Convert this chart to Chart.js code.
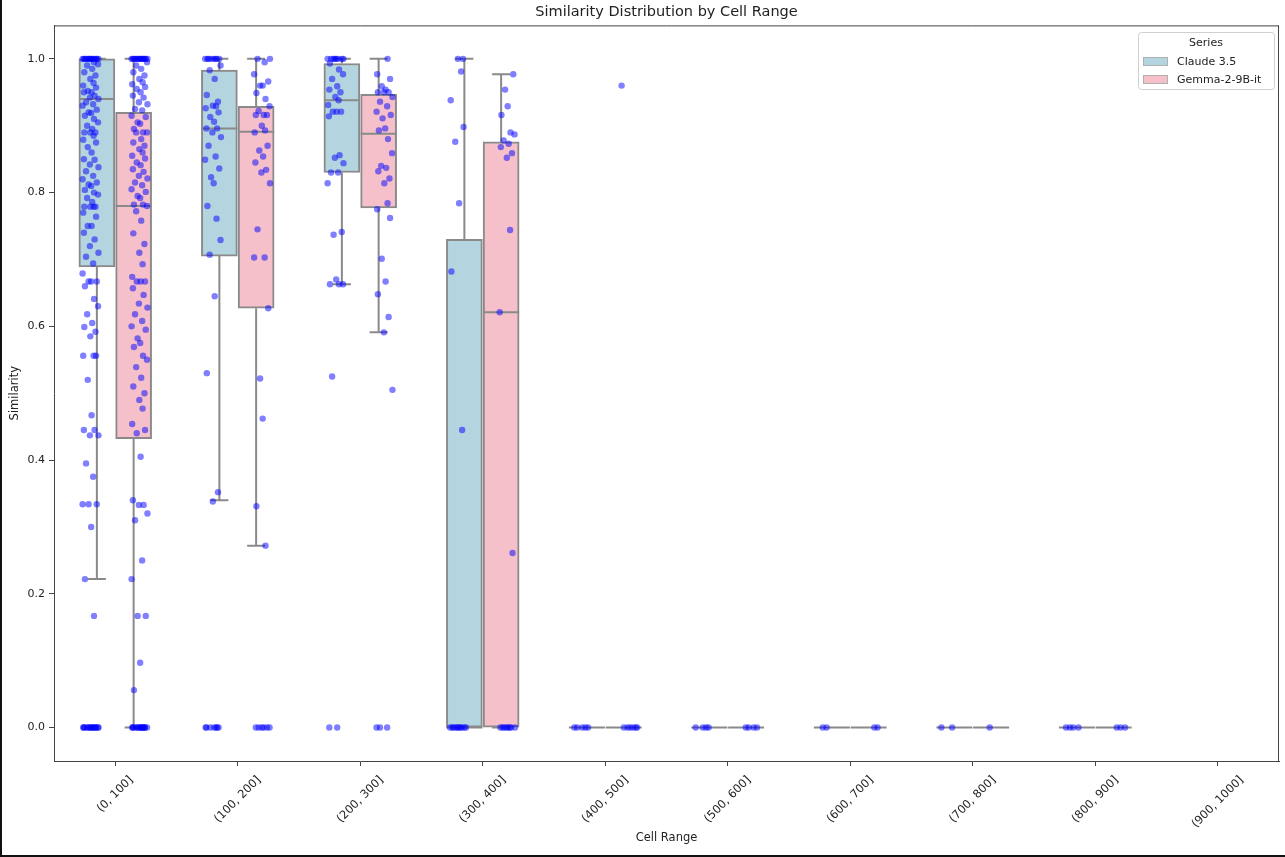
<!DOCTYPE html>
<html>
<head>
<meta charset="utf-8">
<script src="https://cdn.jsdelivr.net/npm/chart.js@4.4.1/dist/chart.umd.min.js"></script>
<style>
  html, body { margin: 0; padding: 0; background: #fff; }
  #wrap { width: 1285px; height: 857px; }
</style>
</head>
<body>
<div id="wrap"><canvas id="boxChart" width="1285" height="857"></canvas></div>
<script>
const categories = ['(0, 100]', '(100, 200]', '(200, 300]', '(300, 400]', '(400, 500]',
                    '(500, 600]', '(600, 700]', '(700, 800]', '(800, 900]', '(900, 1000]'];
const seriesNames = ['Claude 3.5', 'Gemma-2-9B-it'];
const yTicks = [0.0, 0.2, 0.4, 0.6, 0.8, 1.0];

// box statistics per cell range (null = no data)
const claudeLow    = [0.222, 0.340, 0.663, 0, 0, 0, 0, 0, 0, null];
const claudeQ1     = [0.689, 0.705, 0.830, 0, 0, 0, 0, 0, 0, null];
const claudeMedian = [0.940, 0.896, 0.938, 0, 0, 0, 0, 0, 0, null];
const claudeQ3     = [1.000, 0.983, 0.993, 0.730, 0, 0, 0, 0, 0, null];
const claudeHigh   = [1.000, 1.000, 1.000, 1.000, 0, 0, 0, 0, 0, null];

const gemmaLow    = [0.000, 0.272, 0.591, 0, 0, 0, 0, 0, 0, null];
const gemmaQ1     = [0.432, 0.627, 0.777, 0, 0, 0, 0, 0, 0, null];
const gemmaMedian = [0.780, 0.891, 0.888, 0.621, 0, 0, 0, 0, 0, null];
const gemmaQ3     = [0.920, 0.929, 0.947, 0.876, 0, 0, 0, 0, 0, null];
const gemmaHigh   = [1.000, 1.000, 1.000, 0.977, 0, 0, 0, 0, 0, null];

// individual similarity values (strip points)
const claudePoints = [
  [1, 1, 1, 1, 1, 1, 1, 1, 1, 1, 1, 1, 1, 1, 0.995, 0.992, 0.99, 0.985, 0.98, 0.975, 0.97, 0.964, 0.96,
   0.957, 0.952, 0.95, 0.95, 0.945, 0.942, 0.94, 0.935, 0.932, 0.93, 0.924, 0.92, 0.919, 0.915, 0.91,
   0.905, 0.9, 0.895, 0.89, 0.89, 0.89, 0.885, 0.879, 0.875, 0.868, 0.86, 0.85, 0.849, 0.842, 0.838,
   0.832, 0.825, 0.82, 0.815, 0.812, 0.81, 0.804, 0.8, 0.797, 0.792, 0.786, 0.779, 0.779, 0.779, 0.779,
   0.77, 0.764, 0.75, 0.75, 0.74, 0.73, 0.72, 0.71, 0.704, 0.694, 0.679, 0.667, 0.667, 0.667, 0.66,
   0.641, 0.63, 0.618, 0.605, 0.599, 0.592, 0.585, 0.556, 0.556, 0.556, 0.52, 0.467, 0.445, 0.445,
   0.437, 0.437, 0.395, 0.375, 0.334, 0.334, 0.334, 0.3, 0.222, 0.167,
   0, 0, 0, 0, 0, 0, 0, 0, 0, 0, 0, 0, 0, 0, 0],
  [1, 1, 1, 1, 1, 1, 1, 1, 0.99, 0.983, 0.97, 0.946, 0.936, 0.93, 0.929, 0.926, 0.92, 0.913, 0.906,
   0.896, 0.896, 0.89, 0.883, 0.87, 0.854, 0.849, 0.836, 0.823, 0.814, 0.78, 0.761, 0.729, 0.707,
   0.645, 0.53, 0.352, 0.338, 0, 0, 0, 0, 0, 0, 0],
  [1, 1, 1, 1, 1, 1, 1, 1, 0.993, 0.984, 0.977, 0.97, 0.959, 0.954, 0.95, 0.943, 0.938, 0.931, 0.921,
   0.921, 0.921, 0.914, 0.856, 0.852, 0.844, 0.83, 0.83, 0.814, 0.741, 0.737, 0.67, 0.663, 0.663,
   0.663, 0.525, 0, 0],
  [1, 1, 0.981, 0.938, 0.898, 0.876, 0.784, 0.682, 0.445, 0, 0, 0, 0, 0, 0, 0, 0, 0, 0],
  [0, 0, 0, 0, 0],
  [0, 0, 0, 0],
  [0, 0],
  [0, 0],
  [0, 0, 0, 0],
  []
];
const gemmaPoints = [
  [1, 1, 1, 1, 1, 1, 1, 1, 1, 1, 1, 1, 1, 1, 1, 0.995, 0.99, 0.985, 0.98, 0.975, 0.97, 0.965, 0.962,
   0.958, 0.955, 0.95, 0.945, 0.942, 0.935, 0.932, 0.925, 0.923, 0.915, 0.913, 0.905, 0.903, 0.895,
   0.89, 0.89, 0.89, 0.88, 0.875, 0.87, 0.865, 0.86, 0.855, 0.851, 0.845, 0.841, 0.835, 0.831, 0.825,
   0.821, 0.815, 0.811, 0.805, 0.801, 0.795, 0.792, 0.782, 0.782, 0.78, 0.772, 0.758, 0.739, 0.723,
   0.71, 0.693, 0.674, 0.667, 0.667, 0.667, 0.657, 0.647, 0.634, 0.628, 0.618, 0.608, 0.6, 0.595,
   0.582, 0.575, 0.569, 0.556, 0.55, 0.539, 0.523, 0.51, 0.5, 0.49, 0.477, 0.454, 0.445, 0.44, 0.405,
   0.34, 0.333, 0.333, 0.32, 0.31, 0.25, 0.222, 0.167, 0.167, 0.097, 0.056,
   0, 0, 0, 0, 0, 0, 0, 0, 0, 0, 0, 0, 0, 0, 0],
  [1, 1, 0.995, 0.977, 0.966, 0.96, 0.96, 0.949, 0.94, 0.929, 0.922, 0.916, 0.916, 0.916, 0.9, 0.893,
   0.89, 0.87, 0.863, 0.854, 0.845, 0.834, 0.83, 0.814, 0.745, 0.703, 0.703, 0.627, 0.522, 0.462,
   0.331, 0.272, 0, 0, 0, 0, 0, 0],
  [1, 0.977, 0.97, 0.959, 0.954, 0.95, 0.95, 0.95, 0.943, 0.936, 0.929, 0.921, 0.916, 0.911, 0.896,
   0.893, 0.88, 0.859, 0.84, 0.837, 0.832, 0.821, 0.814, 0.784, 0.775, 0.762, 0.701, 0.667, 0.648,
   0.614, 0.591, 0.505, 0, 0, 0],
  [0.977, 0.954, 0.929, 0.916, 0.89, 0.887, 0.878, 0.873, 0.868, 0.859, 0.852, 0.744, 0.621, 0.261,
   0, 0, 0, 0, 0, 0, 0, 0],
  [0.96, 0, 0, 0, 0, 0, 0],
  [0, 0, 0, 0],
  [0, 0],
  [0],
  [0, 0, 0],
  []
];

const BOX_COLORS = ['#b4d4df', '#f5c0ca'];
const EDGE = '#8a8a8a';
const POINT_COLOR = 'rgba(0, 0, 255, 0.5)';
const FONT = '"DejaVu Sans", sans-serif';
// fixed horizontal jitter pattern for the strip points (in category units)
const JITTER = [0.62, -0.35, 0.1, -0.8, 0.45, -0.1, 0.9, -0.55, 0.28, -0.95, 0.7, -0.25, 0.05,
                -0.68, 0.38, 0.85, -0.42, 0.17, -0.75, 0.55, -0.05, 0.33, -0.88];
const BOX_SHIFT = 0.15;   // box centre offset from the category position
const DODGE = 0.2;        // strip centre offset
const SPREAD = 0.07;

function stripData(points, side) {
    let out = [];
    let k = 0;
    points.forEach(function (vals, i) {
        vals.forEach(function (v) {
            out.push({ x: i + side * DODGE + JITTER[k % JITTER.length] * SPREAD, y: v });
            k++;
        });
    });
    return out;
}

function boxData(q1, q3, side) {
    let out = [];
    categories.forEach(function (c, i) {
        if (q1[i] !== null) out.push({ x: i + side * BOX_SHIFT, y: [q1[i], q3[i]], cat: i });
    });
    return out;
}

const boxStats = [
    { low: claudeLow, q1: claudeQ1, med: claudeMedian, q3: claudeQ3, high: claudeHigh },
    { low: gemmaLow, q1: gemmaQ1, med: gemmaMedian, q3: gemmaQ3, high: gemmaHigh }
];

// whiskers, caps and medians drawn right after the boxes, under the points
const whiskerPlugin = {
    id: 'whiskers',
    afterDatasetDraw(chart, args) {
        if (args.index !== 0) return;
        const ctx = chart.ctx;
        const y = chart.scales.y;
        ctx.save();
        ctx.strokeStyle = EDGE;
        ctx.lineWidth = 2;
        [0, 1].forEach(function (s) {
            const meta = chart.getDatasetMeta(s);
            const st = boxStats[s];
            const raw = chart.data.datasets[s].data;
            meta.data.forEach(function (bar, j) {
                const i = raw[j].cat;
                const x = bar.x;
                const half = bar.width / 2;
                ctx.beginPath();
                ctx.moveTo(x, y.getPixelForValue(st.q3[i]));
                ctx.lineTo(x, y.getPixelForValue(st.high[i]));
                ctx.moveTo(x, y.getPixelForValue(st.q1[i]));
                ctx.lineTo(x, y.getPixelForValue(st.low[i]));
                ctx.moveTo(x - half / 2, y.getPixelForValue(st.high[i]));
                ctx.lineTo(x + half / 2, y.getPixelForValue(st.high[i]));
                ctx.moveTo(x - half / 2, y.getPixelForValue(st.low[i]));
                ctx.lineTo(x + half / 2, y.getPixelForValue(st.low[i]));
                ctx.moveTo(x - half, y.getPixelForValue(st.med[i]));
                ctx.lineTo(x + half, y.getPixelForValue(st.med[i]));
                ctx.stroke();
            });
        });
        ctx.restore();
    }
};

const framePlugin = {
    id: 'frame',
    beforeDraw(chart) {
        const ctx = chart.ctx;
        ctx.save();
        ctx.fillStyle = '#fff';
        ctx.fillRect(0, 0, chart.width, chart.height);
        ctx.restore();
    },
    afterDraw(chart) {
        const ctx = chart.ctx;
        const a = chart.chartArea;
        ctx.save();
        // top and right spines
        ctx.strokeStyle = '#444';
        ctx.lineWidth = 1;
        ctx.beginPath();
        ctx.moveTo(a.left, a.top + 0.5);
        ctx.lineTo(a.right, a.top + 0.5);
        ctx.moveTo(a.right - 0.5, a.top);
        ctx.lineTo(a.right - 0.5, a.bottom);
        ctx.stroke();

        // rotated x tick labels, centred under their ticks
        const xs = chart.scales.x;
        ctx.font = '11.5px ' + FONT;
        ctx.fillStyle = '#222';
        ctx.textAlign = 'center';
        ctx.textBaseline = 'middle';
        categories.forEach(function (lab, i) {
            const x = xs.getPixelForValue(i);
            const w = ctx.measureText(lab).width;
            const half = (w + 12) * Math.SQRT1_2 / 2;
            ctx.save();
            ctx.translate(x, a.bottom + 13 + half);
            ctx.rotate(-Math.PI / 4);
            ctx.fillText(lab, 0, 0);
            ctx.restore();
        });

        // legend
        const lx = 1138, ly = 32, lw = 136, lh = 57;
        ctx.font = '11px ' + FONT;
        ctx.fillStyle = 'rgba(255,255,255,0.8)';
        ctx.strokeStyle = '#d0d0d0';
        ctx.beginPath();
        ctx.roundRect(lx + 0.5, ly + 0.5, lw, lh, 3);
        ctx.fill();
        ctx.stroke();
        ctx.fillStyle = '#222';
        ctx.textAlign = 'center';
        ctx.fillText('Series', lx + lw / 2, ly + 11);
        seriesNames.forEach(function (name, s) {
            const py = ly + 25 + s * 18;
            ctx.fillStyle = BOX_COLORS[s];
            ctx.fillRect(lx + 5, py, 25, 9);
            ctx.strokeStyle = '#b0b0b0';
            ctx.strokeRect(lx + 5.5, py + 0.5, 24, 8);
            ctx.fillStyle = '#222';
            ctx.textAlign = 'left';
            ctx.fillText(name, lx + 39, py + 5);
        });

        // figure frame
        ctx.fillStyle = '#111';
        ctx.fillRect(0, 0, 2, chart.height);
        ctx.fillRect(0, chart.height - 2, chart.width, 2);
        ctx.restore();
    }
};

const boxCommon = {
    type: 'bar', borderColor: EDGE, borderWidth: 2, borderSkipped: false,
    grouped: false, barThickness: 36, maxBarThickness: 36, barPercentage: 0.98,
    categoryPercentage: 1, order: 2
};
const pointCommon = {
    type: 'scatter', pointRadius: 3.2, pointBorderWidth: 0, pointBackgroundColor: POINT_COLOR,
    showLine: false, order: 1
};

const datasets = [
    Object.assign({ label: seriesNames[0], data: boxData(claudeQ1, claudeQ3, -1), backgroundColor: BOX_COLORS[0] }, boxCommon),
    Object.assign({ label: seriesNames[1], data: boxData(gemmaQ1, gemmaQ3, 1), backgroundColor: BOX_COLORS[1] }, boxCommon),
    Object.assign({ label: seriesNames[0] + ' points', data: stripData(claudePoints, -1) }, pointCommon),
    Object.assign({ label: seriesNames[1] + ' points', data: stripData(gemmaPoints, 1) }, pointCommon)
];

const ctx = document.getElementById('boxChart').getContext('2d');
new Chart(ctx, {
    type: 'scatter',
    data: { datasets: datasets },
    options: {
        responsive: false,
        animation: false,
        devicePixelRatio: 1,
        layout: { padding: { top: 0, right: 6, left: 0, bottom: 0 } },
        plugins: {
            legend: { display: false },
            tooltip: { enabled: false },
            title: {
                display: true,
                text: 'Similarity Distribution by Cell Range',
                fullSize: false,
                color: '#222',
                font: { family: FONT, size: 14.5, weight: 'normal', lineHeight: 1.2 },
                padding: { top: 4, bottom: 4 }
            }
        },
        scales: {
            x: {
                type: 'linear',
                min: -0.5,
                max: 9.5,
                offset: false,
                afterBuildTicks: function (scale) {
                    scale.ticks = categories.map(function (c, i) { return { value: i }; });
                },
                grid: { drawOnChartArea: false, offset: false, tickLength: 5, color: '#444' },
                border: { color: '#444', width: 1 },
                ticks: { display: false },
                title: {
                    display: true, text: 'Cell Range', color: '#222',
                    font: { family: FONT, size: 11.5 }, padding: { top: 0, bottom: 12 }
                },
                afterFit: function (scale) { scale.height = 96; }
            },
            y: {
                type: 'linear',
                min: -0.05,
                max: 1.05,
                afterBuildTicks: function (scale) {
                    scale.ticks = yTicks.map(function (v) { return { value: v }; });
                },
                grid: { drawOnChartArea: false, tickLength: 5, color: '#444' },
                border: { color: '#444', width: 1 },
                ticks: {
                    color: '#222', padding: 4, font: { family: FONT, size: 11 },
                    callback: function (v) { return Number(v).toFixed(1); }
                },
                title: {
                    display: true, text: 'Similarity', color: '#222',
                    font: { family: FONT, size: 11.5 }, padding: { top: 8, bottom: 0 }
                },
                afterFit: function (scale) { scale.width = 54; }
            }
        }
    },
    plugins: [whiskerPlugin, framePlugin]
});
</script>
</body>
</html>
